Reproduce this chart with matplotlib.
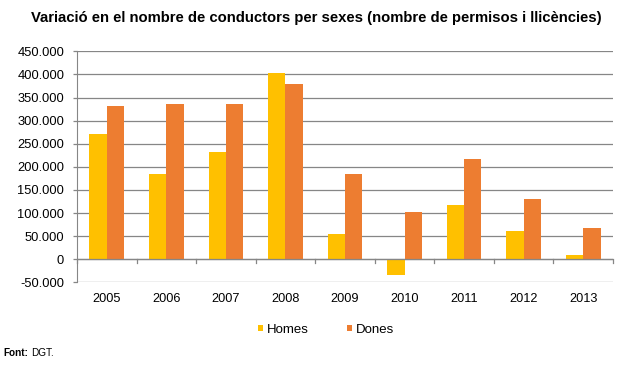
import matplotlib
matplotlib.use("Agg")
import matplotlib.pyplot as plt
import numpy as np
from matplotlib.ticker import FuncFormatter

plt.rcParams['font.family'] = ['Liberation Sans', 'DejaVu Sans']

years = ['2005', '2006', '2007', '2008', '2009', '2010', '2011', '2012', '2013']
homes = [271000, 185000, 232000, 403000, 55000, -35000, 118000, 61000, 9000]
dones = [332000, 336000, 336000, 379000, 185000, 102000, 217000, 131000, 68000]

grid_col = '#868686'

fig = plt.figure(figsize=(6.32, 3.67), dpi=100)
ax = fig.add_axes([0.1218, 0.2308, 0.8482, 0.6292])

x = np.arange(len(years))
w = 0.29
ax.bar(x - w / 2, homes, w, color='#FFC000', label='Homes', zorder=3)
ax.bar(x + w / 2, dones, w, color='#ED7D31', label='Dones', zorder=3)

ax.set_xlim(-0.5, len(years) - 0.5)
ax.set_ylim(-50000, 450000)
ax.set_yticks(np.arange(-50000, 450001, 50000))
ax.yaxis.set_major_formatter(FuncFormatter(lambda v, p: f"{int(v):,}".replace(',', '.')))
ax.grid(axis='y', color=grid_col, linewidth=0.9, zorder=0)

for s in ['top', 'right', 'bottom']:
    ax.spines[s].set_visible(False)
ax.spines['left'].set_color(grid_col)
ax.axhline(0, color=grid_col, linewidth=0.9, zorder=4)

# year labels without ticks, tick marks at the category boundaries on the zero line
ax.set_xticks(x)
ax.set_xticklabels(years)
ax.tick_params(axis='x', length=0, pad=7.5, labelsize=9.2)
for b in np.arange(-0.5, len(years), 1.0):
    ax.plot([b, b], [0, -8000], color=grid_col, linewidth=0.9, zorder=4, clip_on=False)
ax.tick_params(axis='y', length=2.9, width=0.9, color=grid_col, labelsize=9.3, pad=6.3)

fig.text(0.5, 0.951, 'Variació en el nombre de conductors per sexes (nombre de permisos i llicències)',
         ha='center', va='center', fontsize=10.7, fontweight='bold')

ax.legend(loc='center', bbox_to_anchor=(0.516, 0.101), bbox_transform=fig.transFigure,
          ncol=2, frameon=False, fontsize=9.5, handlelength=0.38, handleheight=0.38,
          handletextpad=0.3, columnspacing=2.9)

fig.text(0.005, 0.038, 'Font:', fontsize=7.2, fontweight='bold', va='center')
fig.text(0.049, 0.038, 'DGT.', fontsize=7.2, va='center')

fig.savefig('out.png', dpi=100)
